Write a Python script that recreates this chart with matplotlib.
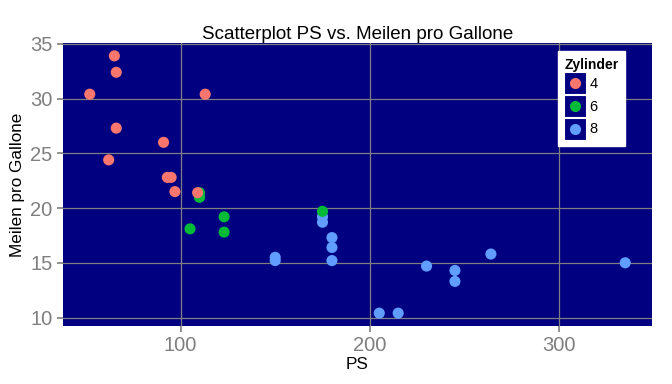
import matplotlib
matplotlib.use("Agg")
import matplotlib.pyplot as plt
from matplotlib.legend_handler import HandlerBase
from matplotlib.patches import Rectangle
from matplotlib.lines import Line2D

plt.rcParams['font.family'] = ['Liberation Sans', 'DejaVu Sans']

# mtcars: hp, mpg, cyl (in data order)
hp = [110, 110, 93, 110, 175, 105, 245, 62, 95, 123, 123, 180, 180, 180, 205, 215,
      230, 66, 52, 65, 97, 150, 150, 245, 175, 66, 91, 113, 264, 175, 335, 109]
mpg = [21.0, 21.0, 22.8, 21.4, 18.7, 18.1, 14.3, 24.4, 22.8, 19.2, 17.8, 16.4, 17.3, 15.2,
       10.4, 10.4, 14.7, 32.4, 30.4, 33.9, 21.5, 15.5, 15.2, 13.3, 19.2, 27.3, 26.0, 30.4,
       15.8, 19.7, 15.0, 21.4]
cyl = [6, 6, 4, 6, 8, 6, 8, 4, 4, 6, 6, 8, 8, 8, 8, 8,
       8, 4, 4, 4, 4, 8, 8, 8, 8, 4, 4, 4, 8, 6, 8, 4]

cyl_levels = [4, 6, 8]
cyl_colors = {4: '#F8766D', 6: '#00BA38', 8: '#619CFF'}
navy = '#000080'
grid_col = '#7F7F7F'

fig = plt.figure(figsize=(6.72, 3.84), dpi=100)
ax = fig.add_axes([63/672, 1 - 326/384, (652 - 63)/672, (326 - 43)/384])
ax.set_facecolor(navy)

ax.scatter(hp, mpg, c=[cyl_colors[c] for c in cyl], s=64, linewidths=0, zorder=3)

xr = max(hp) - min(hp)
yr = max(mpg) - min(mpg)
ax.set_xlim(min(hp) - 0.05 * xr, max(hp) + 0.05 * xr)
ax.set_ylim(min(mpg) - 0.05 * yr, max(mpg) + 0.05 * yr)
ax.set_xticks([100, 200, 300])
ax.set_yticks([10, 15, 20, 25, 30, 35])
ax.grid(True, color=grid_col, linewidth=0.9, zorder=1)
ax.set_axisbelow(True)
for s in ax.spines.values():
    s.set_visible(False)
ax.tick_params(colors=grid_col, labelcolor=grid_col, labelsize=14.5, length=4, width=1.2)

ax.set_xlabel('PS', fontsize=12.3, labelpad=1)
ax.set_ylabel('Meilen pro Gallone', fontsize=12.3, labelpad=4)
ax.set_title('Scatterplot PS vs. Meilen pro Gallone', fontsize=13.5, pad=3)


# legend key: navy square with a dot, filling the handle box
class KeyHandler(HandlerBase):
    def create_artists(self, legend, orig_handle, xdescent, ydescent, width, height,
                       fontsize, trans):
        side = height
        x0 = -xdescent + (width - side) / 2
        y0 = -ydescent
        r = Rectangle((x0, y0), side, side, facecolor=navy, edgecolor='white',
                      linewidth=0.8, transform=trans)
        m = Line2D([x0 + side / 2], [y0 + side / 2], marker='o', linestyle='',
                   markersize=8, markerfacecolor=orig_handle.get_markerfacecolor(),
                   markeredgewidth=0, transform=trans)
        return [r, m]


handles = [Line2D([], [], marker='o', linestyle='', markerfacecolor=cyl_colors[c])
           for c in cyl_levels]
leg = ax.legend(handles, [str(c) for c in cyl_levels], title='Zylinder',
                handler_map={Line2D: KeyHandler()}, loc='upper right',
                bbox_to_anchor=(625/672, 1 - 51/384), bbox_transform=fig.transFigure,
                frameon=True, fancybox=False, framealpha=1, edgecolor='white',
                fontsize=10.5, title_fontsize=10, handlelength=1.5, handleheight=1.94,
                handletextpad=0.25, labelspacing=0.05, borderpad=0.45, borderaxespad=0)
leg.get_title().set_fontweight('bold')
leg._legend_box.align = 'left'

fig.savefig('out.png', dpi=100)
